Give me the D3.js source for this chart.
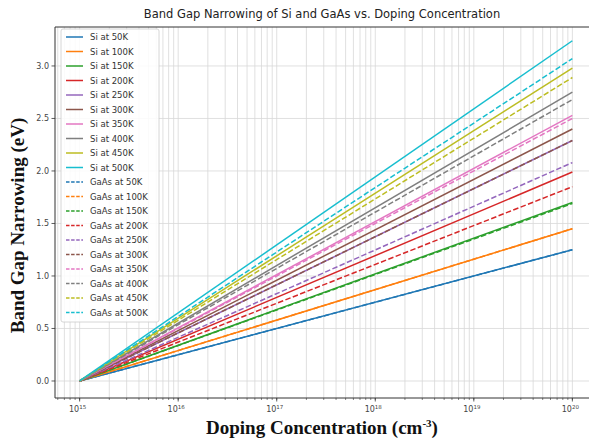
<!DOCTYPE html>
<html lang="en">
<head>
  <meta charset="UTF-8">
  <title>Band Gap Narrowing</title>
  <script src="https://d3js.org/d3.v7.min.js"></script>
  <style>
    body { margin: 0; background: #fff; }
    svg { display: block; }
  </style>
</head>
<body>
<script>
  // dados (valor em 1e20, todas as curvas partem de 0 em 1e15)
  const temps = [50, 100, 150, 200, 250, 300, 350, 400, 450, 500];
  const siEnd = [1.25, 1.45, 1.70, 1.99, 2.29, 2.40, 2.53, 2.75, 2.98, 3.24];
  const gaasEnd = [1.25, 1.45, 1.69, 1.85, 2.08, 2.29, 2.50, 2.68, 2.89, 3.07];
  const nStart = 1e15, nEnd = 1e20;
  const yTicks = [0, 0.5, 1.0, 1.5, 2.0, 2.5, 3.0];
  const xExps = [15, 16, 17, 18, 19, 20];
  const colors = ["#1f77b4", "#ff7f0e", "#2ca02c", "#d62728", "#9467bd",
                  "#8c564b", "#e377c2", "#7f7f7f", "#bcbd22", "#17becf"];

  const width = 589, height = 442;
  const plot = { left: 55, right: 597, top: 27, bottom: 398 };

  const svg = d3.select("body").append("svg")
    .attr("width", width).attr("height", height);

  // escalas
  const x = d3.scaleLog().domain([nStart / Math.pow(10, 0.25), nEnd * Math.pow(10, 0.25)])
    .range([plot.left, plot.right]);
  const y = d3.scaleLinear().domain([-0.162, 3.371]).range([plot.bottom, plot.top]);

  // grade
  const grid = svg.append("g");
  const minor = [];
  for (let e = 14; e <= 20; e++) for (let k = 1; k < 10; k++) {
    const v = k * Math.pow(10, e);
    if (x(v) >= plot.left && x(v) <= plot.right) minor.push(v);
  }
  grid.selectAll("line.vx").data(minor).enter().append("line")
    .attr("x1", d => x(d)).attr("x2", d => x(d))
    .attr("y1", plot.top).attr("y2", plot.bottom)
    .attr("stroke", "#d8d8d8").attr("stroke-width", 0.8);
  grid.selectAll("line.hy").data(yTicks).enter().append("line")
    .attr("x1", plot.left).attr("x2", plot.right)
    .attr("y1", d => y(d)).attr("y2", d => y(d))
    .attr("stroke", "#d8d8d8").attr("stroke-width", 0.8);

  // séries
  const series = [];
  temps.forEach((t, i) => series.push({ name: `Si at ${t}K`, color: colors[i], dash: null,
    pts: [[nStart, 0], [nEnd, siEnd[i]]] }));
  temps.forEach((t, i) => series.push({ name: `GaAs at ${t}K`, color: colors[i], dash: "5.5,2.4",
    pts: [[nStart, 0], [nEnd, gaasEnd[i]]] }));

  const line = d3.line().x(d => x(d[0])).y(d => y(d[1]));
  svg.append("g").selectAll("path").data(series).enter().append("path")
    .attr("d", d => line(d.pts))
    .attr("fill", "none")
    .attr("stroke", d => d.color)
    .attr("stroke-width", 1.5)
    .attr("stroke-dasharray", d => d.dash);

  // eixos
  const ax = svg.append("g").attr("font-family", "DejaVu Sans").attr("fill", "#444");
  ax.append("line").attr("x1", plot.left).attr("x2", plot.right)
    .attr("y1", plot.bottom).attr("y2", plot.bottom).attr("stroke", "#333").attr("stroke-width", 1);
  ax.append("line").attr("x1", plot.left).attr("x2", plot.left)
    .attr("y1", plot.top).attr("y2", plot.bottom).attr("stroke", "#333").attr("stroke-width", 1);
  ax.append("line").attr("x1", plot.left).attr("x2", plot.right)
    .attr("y1", plot.top).attr("y2", plot.top).attr("stroke", "#333").attr("stroke-width", 1);

  ax.selectAll("line.my").data(minor).enter().append("line")
    .attr("x1", d => x(d)).attr("x2", d => x(d))
    .attr("y1", plot.bottom).attr("y2", plot.bottom + 2)
    .attr("stroke", "#333").attr("stroke-width", 0.6);
  ax.selectAll("line.Mx").data(xExps).enter().append("line")
    .attr("x1", d => x(Math.pow(10, d))).attr("x2", d => x(Math.pow(10, d)))
    .attr("y1", plot.bottom).attr("y2", plot.bottom + 3.5)
    .attr("stroke", "#333").attr("stroke-width", 0.8);
  const xl = ax.selectAll("text.xl").data(xExps).enter().append("text")
    .attr("x", d => x(Math.pow(10, d)) - 2)
    .attr("y", plot.bottom + 14)
    .attr("text-anchor", "middle")
    .attr("font-size", 8);
  xl.append("tspan").text("10");
  xl.append("tspan").attr("dy", -3.5).attr("font-size", 5.5).text(d => d);

  ax.selectAll("line.ty").data(yTicks).enter().append("line")
    .attr("x1", plot.left - 3.5).attr("x2", plot.left)
    .attr("y1", d => y(d)).attr("y2", d => y(d))
    .attr("stroke", "#333").attr("stroke-width", 0.8);
  ax.selectAll("text.yl").data(yTicks).enter().append("text")
    .attr("x", plot.left - 6).attr("y", d => y(d) + 3)
    .attr("text-anchor", "end").attr("font-size", 8)
    .text(d => d.toFixed(1));

  // títulos
  svg.append("text").attr("x", 322).attr("y", 18)
    .attr("text-anchor", "middle").attr("font-family", "DejaVu Sans")
    .attr("font-size", 11.5).attr("fill", "#222")
    .text("Band Gap Narrowing of Si and GaAs vs. Doping Concentration");

  const xt = svg.append("text").attr("x", 322).attr("y", 434)
    .attr("text-anchor", "middle").attr("font-family", "Liberation Serif")
    .attr("font-weight", "bold").attr("font-size", 19).attr("fill", "#111");
  xt.append("tspan").text("Doping Concentration (cm");
  xt.append("tspan").attr("dy", -7).attr("font-size", 11).text("-3");
  xt.append("tspan").attr("dy", 7).text(")");

  svg.append("text")
    .attr("transform", `translate(24, ${(plot.top + plot.bottom) / 2 + 13}) rotate(-90)`)
    .attr("text-anchor", "middle").attr("font-family", "Liberation Serif")
    .attr("font-weight", "bold").attr("font-size", 19).attr("fill", "#111")
    .text("Band Gap Narrowing (eV)");

  // legenda
  const lg = svg.append("g").attr("transform", "translate(61, 29)");
  lg.append("rect").attr("width", 98).attr("height", 293).attr("rx", 2)
    .attr("fill", "#fff").attr("fill-opacity", 0.85)
    .attr("stroke", "#ccc").attr("stroke-width", 0.8);
  const item = lg.selectAll("g.item").data(series).enter().append("g")
    .attr("transform", (d, i) => `translate(0, ${8 + i * 14.5})`);
  item.append("line").attr("x1", 5).attr("x2", 22).attr("y1", 0).attr("y2", 0)
    .attr("stroke", d => d.color).attr("stroke-width", 1.5)
    .attr("stroke-dasharray", d => d.dash ? "3.5,1.6" : null);
  item.append("text").attr("x", 29).attr("y", 3)
    .attr("font-family", "DejaVu Sans").attr("font-size", 8.5).attr("fill", "#333")
    .text(d => d.name);
</script>
</body>
</html>
